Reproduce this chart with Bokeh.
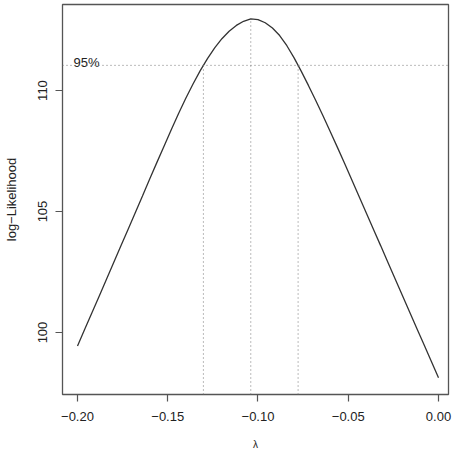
import numpy as np
from bokeh.plotting import figure
from bokeh.models import Range1d, FixedTicker, Span
from bokeh.embed import file_html
from bokeh.resources import INLINE
from bokeh.core.properties import value

# Box-Cox profile log-likelihood
lam = [-0.200, -0.196, -0.192, -0.188, -0.184, -0.180, -0.176, -0.172, -0.168,
       -0.164, -0.160, -0.156, -0.152, -0.148, -0.144, -0.140, -0.136, -0.132,
       -0.128, -0.124, -0.120, -0.116, -0.112, -0.108, -0.104, -0.100, -0.096,
       -0.092, -0.088, -0.084, -0.080, -0.076, -0.072, -0.068, -0.064, -0.060,
       -0.056, -0.052, -0.048, -0.044, -0.040, -0.036, -0.032, -0.028, -0.024,
       -0.020, -0.016, -0.012, -0.008, -0.004, 0.000]
loglik = [99.44, 100.13, 100.82, 101.50, 102.19, 102.88, 103.57, 104.26, 104.95,
          105.64, 106.34, 107.03, 107.71, 108.39, 109.05, 109.68, 110.27, 110.82,
          111.32, 111.76, 112.14, 112.45, 112.69, 112.86, 112.96, 112.93, 112.80,
          112.58, 112.27, 111.85, 111.35, 110.79, 110.20, 109.59, 108.96, 108.31,
          107.65, 106.98, 106.30, 105.62, 104.94, 104.26, 103.58, 102.89, 102.21,
          101.53, 100.85, 100.17, 99.49, 98.81, 98.13]

x_ticks = [-0.20, -0.15, -0.10, -0.05, 0.00]
x_tick_labels = ["\u22120.20", "\u22120.15", "\u22120.10", "\u22120.05", "0.00"]
y_ticks = [100, 105, 110]
y_tick_labels = ["100", "105", "110"]
x_title = "\u03bb"
y_title = "log\u2212Likelihood"
ci_label = "95%"

lam_a = np.array(lam)
ll_a = np.array(loglik)
mx = int(np.argmax(ll_a))
max_ll = ll_a[mx]
lim = max_ll - 0.5 * 3.841459

# CI endpoints by linear interpolation (as MASS::boxcox)
above = np.where(ll_a > lim)[0]
i0, i1 = above[0], above[-1]
x_lo = np.interp(lim, [ll_a[i0 - 1], ll_a[i0]], [lam_a[i0 - 1], lam_a[i0]])
x_hi = np.interp(lim, [ll_a[i1 + 1], ll_a[i1]], [lam_a[i1 + 1], lam_a[i1]])

x_lo_r, x_hi_r = -0.20831, 0.00554
y_lo, y_hi = 97.438, 113.554
p = figure(width=458, height=454, output_backend="svg", toolbar_location=None,
           x_range=Range1d(x_lo_r, x_hi_r), y_range=Range1d(y_lo, y_hi),
           min_border_left=62, min_border_right=10, min_border_top=4,
           min_border_bottom=60)
p.background_fill_color = "white"
p.border_fill_color = "white"
p.xgrid.visible = False
p.ygrid.visible = False
p.outline_line_color = "#555555"
p.outline_line_width = 1.3

FONT = "Liberation Sans"
for ax in (p.xaxis[0], p.yaxis[0]):
    ax.axis_line_color = None
    ax.major_tick_line_color = "#555555"
    ax.major_tick_line_width = 1.2
    ax.major_tick_out = 7
    ax.major_tick_in = 0
    ax.minor_tick_line_color = None
    ax.major_label_text_font = FONT
    ax.major_label_text_font_size = "13px"
    ax.major_label_text_color = "#222222"
    ax.axis_label_text_font = FONT
    ax.axis_label_text_font_size = "13px"
    ax.axis_label_text_font_style = "normal"
    ax.axis_label_text_color = "#222222"

p.xaxis.ticker = FixedTicker(ticks=x_ticks)
p.xaxis.major_label_overrides = dict(zip(x_ticks, x_tick_labels))
p.xaxis.major_label_standoff = 10
p.xaxis.axis_label = x_title
p.xaxis.axis_label_text_font_size = "10px"
p.xaxis.axis_label_standoff = 15

p.yaxis.ticker = FixedTicker(ticks=y_ticks)
p.yaxis.major_label_overrides = dict(zip(y_ticks, y_tick_labels))
p.yaxis.major_label_orientation = "vertical"
p.yaxis.major_label_standoff = 8
p.yaxis.axis_label = y_title
p.yaxis.axis_label_standoff = 17

p.line(lam, loglik, line_color="#333333", line_width=1.3)

dot = dict(line_color="#777777", line_width=1, line_dash="1 3")
p.add_layout(Span(location=lim, dimension="width", **dot))
p.segment(x0=[x_lo, lam_a[mx], x_hi], y0=[y_lo] * 3,
          x1=[x_lo, lam_a[mx], x_hi], y1=[lim, max_ll, lim], **dot)

p.text(x=[lam[0]], y=[lim], text=[ci_label], x_offset=-4, y_offset=-3,
       text_font=value(FONT), text_font_size="13px", text_color="#222222",
       text_baseline="alphabetic", text_align="left")

open("out.html", "w").write(file_html(p, INLINE))
